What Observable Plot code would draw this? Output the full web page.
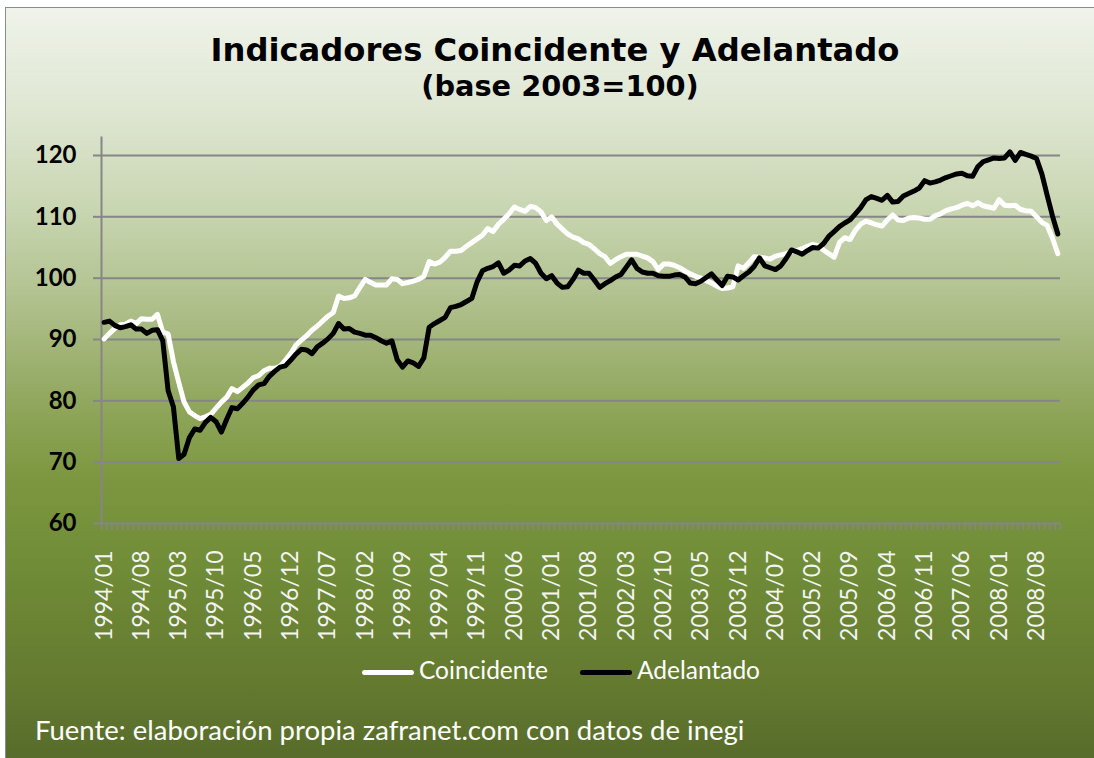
<!DOCTYPE html>
<html>
<head>
<meta charset="utf-8">
<script src="https://cdn.jsdelivr.net/npm/d3@7"></script>
<script src="https://cdn.jsdelivr.net/npm/@observablehq/plot@0.6"></script>
<style>
  html, body { margin: 0; padding: 0; width: 1094px; height: 758px; overflow: hidden; background: #ffffff; position: relative; }
  #bg { position: absolute; left: 5px; top: 7px; width: 1100px; height: 760px;
        border-left: 1.5px solid #8c8c8c; border-top: 1.5px solid #8c8c8c;
        background: linear-gradient(to bottom, #eff3ea 0px, #dfe7d3 100px, #c9d6b2 200px, #aebf8a 300px,
                    #92a85f 390px, #7c973f 470px, #708c37 560px, #63792f 680px, #566a2a 760px); }
  .t { position: absolute; white-space: nowrap; }
  #title { left: 0; width: 1110px; text-align: center; top: 34px; font: bold 32.2px/32.2px "DejaVu Sans", Verdana, sans-serif; color: #000; }
  #subtitle { left: 0; width: 1120px; text-align: center; top: 72px; font: bold 28.8px/28.8px "DejaVu Sans", Verdana, sans-serif; color: #000; }
  .leg { font: 24.5px/24.5px Lato, sans-serif; color: #ffffff; top: 658.3px; }
  .swatch { position: absolute; height: 5px; border-radius: 2.5px; top: 669.5px; width: 52px; }
  #caption { left: 35px; top: 715.6px; font: 27.5px/27.5px Lato, sans-serif; color: #ffffff; }
  #plot { position: absolute; left: 0; top: 120px; }
</style>
</head>
<body>
<div id="bg"></div>
<div class="t" id="title">Indicadores Coincidente y Adelantado</div>
<div class="t" id="subtitle">(base 2003=100)</div>
<div id="plot"></div>
<div class="swatch" style="left:362px;background:#ffffff"></div>
<div class="t leg" style="left:419px">Coincidente</div>
<div class="swatch" style="left:580px;background:#000000"></div>
<div class="t leg" style="left:637px">Adelantado</div>
<div class="t" id="caption">Fuente: elaboración propia zafranet.com con datos de inegi</div>
<script>
// Monthly series, 1994/01 .. 2008/12 (180 months)
const startYear = 1994;
const coincidente = [
  90.1, 91.0, 91.8, 92.4, 92.5, 93.0, 92.6, 93.4, 93.3, 93.3,
  94.1, 91.2, 90.9, 86.4, 83.0, 79.8, 78.2, 77.6, 77.1, 77.4,
  77.8, 78.8, 79.8, 80.6, 82.0, 81.5, 82.2, 82.9, 83.8, 84.1,
  84.9, 85.3, 85.3, 85.6, 86.6, 87.7, 89.1, 89.9, 90.6, 91.5,
  92.2, 93.0, 93.8, 94.4,
  97.1, 96.7, 96.8, 97.1, 98.5, 99.8, 99.3, 98.9, 98.9, 98.9,
  99.9, 99.8, 99.1, 99.3, 99.5, 99.8, 100.3, 102.7, 102.3, 102.6,
  103.4, 104.4, 104.4, 104.5, 105.2, 105.8, 106.4, 107.0, 108.1, 107.6,
  108.8, 109.6, 110.5, 111.6, 111.2, 110.9, 111.7, 111.5, 110.8, 109.4,
  110.0, 108.8, 108.0, 107.2, 106.7, 106.4, 105.8, 105.5, 104.8, 104.0,
  103.5, 102.4, 103.0, 103.5, 103.9, 103.9, 103.9, 103.6, 103.3, 102.7,
  101.4, 102.3, 102.3, 102.1, 101.7, 101.2, 100.7, 100.3, 100.0, 99.6,
  99.2, 98.7, 98.3, 98.4, 98.6, 102.0, 101.6, 102.5, 103.5, 103.4,
  103.3, 103.1, 103.6, 103.8, 104.0, 104.3, 104.5, 104.8, 105.2, 105.5,
  105.3,
  104.6, 104.0, 103.4, 105.8, 106.6, 106.3, 107.8, 108.8, 109.3, 109.0,
  108.7, 108.5, 109.5, 110.3, 109.5, 109.4, 109.8, 109.9, 109.8, 109.6,
  109.6, 110.2, 110.5, 111.0, 111.3, 111.5, 111.9, 112.2, 111.8, 112.3,
  111.8, 111.6, 111.4, 112.8, 111.9, 111.8, 111.9, 111.2, 111.0, 110.9,
  110.0, 109.1, 108.6, 106.5, 104.0
];
const adelantado = [
  92.8, 93.0, 92.3, 91.9, 92.1, 92.4, 91.7, 91.7, 91.0, 91.5,
  91.6, 89.8, 81.7, 79.0, 70.6, 71.3, 74.0, 75.4, 75.2, 76.5,
  77.3, 76.6, 74.9, 77.0, 78.9, 78.7, 79.6, 80.6, 81.8, 82.6,
  82.8, 84.0, 84.8, 85.5, 85.7, 86.6, 87.6, 88.4, 88.3, 87.7,
  88.8, 89.4, 90.1, 91.0,
  92.6, 91.7, 91.8, 91.2, 91.0, 90.7, 90.7, 90.3, 89.8, 89.4,
  89.8, 86.7, 85.5, 86.5, 86.2, 85.6, 87.0, 92.0, 92.6, 93.1,
  93.6, 95.2, 95.4, 95.7, 96.2, 96.7, 99.4, 101.2, 101.6, 101.9,
  102.5, 100.8, 101.3, 102.1, 102.0, 102.8, 103.2, 102.4, 100.8, 99.9,
  100.4, 99.2, 98.5, 98.6, 99.8, 101.3, 100.8, 100.8, 99.7, 98.5,
  99.1, 99.6, 100.2, 100.6, 101.8, 103.0, 101.6, 101.0, 100.8, 100.8,
  100.4, 100.3, 100.3, 100.5, 100.6, 100.2, 99.2, 99.1, 99.5, 100.1,
  100.7, 99.7, 98.8, 100.3, 100.2, 99.7, 100.4, 101.0, 101.9, 103.3,
  102.0, 101.7, 101.4, 102.0, 103.2, 104.6, 104.3, 103.9, 104.5, 105.0,
  104.9,
  105.6, 106.8, 107.6, 108.4, 109.0, 109.5, 110.5, 111.5, 112.8, 113.3,
  113.0, 112.7, 113.5, 112.4, 112.5, 113.4, 113.8, 114.2, 114.7, 115.9,
  115.5, 115.7, 116.0, 116.4, 116.7, 117.0, 117.1, 116.7, 116.6, 118.2,
  119.0, 119.3, 119.6, 119.5, 119.6, 120.6, 119.2, 120.5, 120.2, 119.9,
  119.5, 117.0, 113.5, 110.1, 107.2
];
const tickLabels = ["1994/01","1994/08","1995/03","1995/10","1996/05","1996/12","1997/07",
  "1998/02","1998/09","1999/04","1999/11","2000/06","2001/01","2001/08","2002/03","2002/10",
  "2003/05","2003/12","2004/07","2005/02","2005/09","2006/04","2006/11","2007/06","2008/01","2008/08"];
const yTicks = [60, 70, 80, 90, 100, 110, 120];
const seriesNames = ["Coincidente", "Adelantado"];

const N = coincidente.length;
const months = d3.range(N).map(i => `${startYear + Math.floor(i / 12)}/${String(i % 12 + 1).padStart(2, "0")}`);
const rows = months.map((m, i) => ({i, month: m, coincidente: coincidente[i], adelantado: adelantado[i]}));
const labelRows = rows.filter(r => tickLabels.includes(r.month));
const boundaries = d3.range(N + 1).map(i => i - 0.5);

const grey = "#868686";
const chart = Plot.plot({
  width: 1094,
  height: 530,
  marginLeft: 101,
  marginRight: 34,
  marginTop: 16.6,
  marginBottom: 127,
  style: {background: "transparent", overflow: "visible"},
  x: {domain: [-0.5, N - 0.5], axis: null},
  y: {domain: [60, 123], axis: null},
  marks: [
    Plot.gridY(yTicks, {stroke: grey, strokeOpacity: 1, strokeWidth: 2}),
    Plot.axisY(yTicks, {tickSize: 8, tickFormat: () => "", stroke: grey, strokeWidth: 2, strokeOpacity: 1, label: null}),
    Plot.text(yTicks, {y: d => d, text: d => String(d), frameAnchor: "left", dx: -25, textAnchor: "end",
      fill: "#000", fontSize: 24, fontWeight: "bold", fontFamily: "Lato"}),
    Plot.ruleX([-0.5], {y1: 60, y2: 123, stroke: grey, strokeWidth: 2}),
    Plot.axisX(boundaries, {tickSize: 7, tickFormat: () => "", stroke: grey, strokeWidth: 1.5, strokeOpacity: 1, label: null}),
    Plot.text(labelRows, {x: "i", text: "month", frameAnchor: "bottom", dy: 27, rotate: -90,
      textAnchor: "end", lineAnchor: "middle", fill: "#f4f4f4", fontSize: 23, fontFamily: "Lato"}),
    Plot.line(rows, {x: "i", y: "coincidente", stroke: "#ffffff", strokeWidth: 5, strokeLinejoin: "round", strokeLinecap: "round"}),
    Plot.line(rows, {x: "i", y: "adelantado", stroke: "#000000", strokeWidth: 5, strokeLinejoin: "round", strokeLinecap: "round"})
  ]
});
document.getElementById("plot").appendChild(chart);
</script>
</body>
</html>
